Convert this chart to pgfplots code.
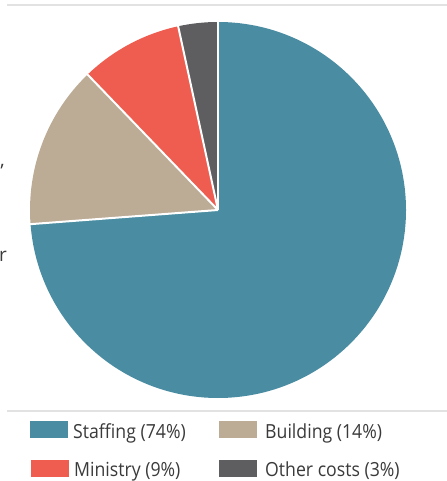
\documentclass[border=0pt]{standalone}
\usepackage{pgfplots}
\pgfplotsset{compat=1.18}
\usepackage{pgfplotstable}
\usepackage{fontspec}
\setmainfont{Open Sans}
\newfontfamily\legfont{Open Sans}[FakeStretch=0.91]

\definecolor{staff}{HTML}{4A8DA3}
\definecolor{build}{HTML}{BCAB95}
\definecolor{minis}{HTML}{EE5D50}
\definecolor{other}{HTML}{5E5E60}
\definecolor{rulegray}{HTML}{E2E2E2}
\definecolor{txtgray}{HTML}{3A3A3A}

% share of total costs, percent (unrounded, as drawn)
\pgfplotstableread{
label value
Staffing 73.8
Building 14.0
Ministry 8.8
Other 3.4
}\costs

\begin{document}%
% cumulative angles, clockwise from the top
\pgfplotstablegetelem{0}{value}\of\costs \let\valA\pgfplotsretval%
\pgfplotstablegetelem{1}{value}\of\costs \let\valB\pgfplotsretval%
\pgfplotstablegetelem{2}{value}\of\costs \let\valC\pgfplotsretval%
\pgfplotstablegetelem{3}{value}\of\costs \let\valD\pgfplotsretval%
\pgfmathsetmacro\angA{90-3.6*\valA}%
\pgfmathsetmacro\angB{\angA-3.6*\valB}%
\pgfmathsetmacro\angC{\angB-3.6*\valC}%
\pgfmathsetmacro\angD{\angC-3.6*\valD}%
\begin{tikzpicture}
\begin{axis}[name=ax, hide axis, scale only axis, clip=false,
  x=1bp, y=1bp, xmin=0, xmax=447, ymin=0, ymax=481]
  % slices
  \fill[staff] (axis cs:218,271) -- ++(90:188bp) arc[start angle=90, end angle=\angA, radius=188bp] -- cycle;
  \fill[build] (axis cs:218,271) -- ++(\angA:188bp) arc[start angle=\angA, end angle=\angB, radius=188bp] -- cycle;
  \fill[minis] (axis cs:218,271) -- ++(\angB:188bp) arc[start angle=\angB, end angle=\angC, radius=188bp] -- cycle;
  \fill[other] (axis cs:218,271) -- ++(\angC:188bp) arc[start angle=\angC, end angle=\angD, radius=188bp] -- cycle;
  \draw[white, line width=2bp] (axis cs:218,271) -- ++(90:190bp);
  \draw[white, line width=2bp] (axis cs:218,271) -- ++(\angA:190bp);
  \draw[white, line width=2bp] (axis cs:218,271) -- ++(\angB:190bp);
  \draw[white, line width=2bp] (axis cs:218,271) -- ++(\angC:190bp);
  % rules
  \draw[rulegray, line width=1.5bp] (axis cs:7,476) -- (axis cs:447,476);
  \draw[rulegray, line width=1.5bp] (axis cs:7,70) -- (axis cs:447,70);
  % legend
  \fill[staff] (axis cs:30,43) rectangle (axis cs:68,60);
  \fill[build] (axis cs:219,43) rectangle (axis cs:257,60);
  \fill[minis] (axis cs:31,4) rectangle (axis cs:69,21);
  \fill[other] (axis cs:219,4) rectangle (axis cs:257,21);
  \node[anchor=base west, inner sep=0pt, text=txtgray, font=\legfont\fontsize{19.5}{22}\selectfont] at (axis cs:73,42) {Staffing (74\%)};
  \node[anchor=base west, inner sep=0pt, text=txtgray, font=\legfont\fontsize{19.5}{22}\selectfont] at (axis cs:265,42) {Building (14\%)};
  \node[anchor=base west, inner sep=0pt, text=txtgray, font=\legfont\fontsize{19.5}{22}\selectfont] at (axis cs:74,4) {Ministry (9\%)};
  \node[anchor=base west, inner sep=0pt, text=txtgray, font=\legfont\fontsize{19.5}{22}\selectfont] at (axis cs:265,4) {Other costs (3\%)};
  % cut-off body text at the left edge
  \node[anchor=base west, inner sep=0pt, text=txtgray, font=\fontsize{19}{22}\selectfont] at (axis cs:0,314) {,};
  \node[anchor=base west, inner sep=0pt, text=txtgray, font=\fontsize{19}{22}\selectfont] at (axis cs:-1,219) {r};
\end{axis}
\pgfresetboundingbox
\path (ax.south west) rectangle (ax.north east);
\end{tikzpicture}%
\end{document}
